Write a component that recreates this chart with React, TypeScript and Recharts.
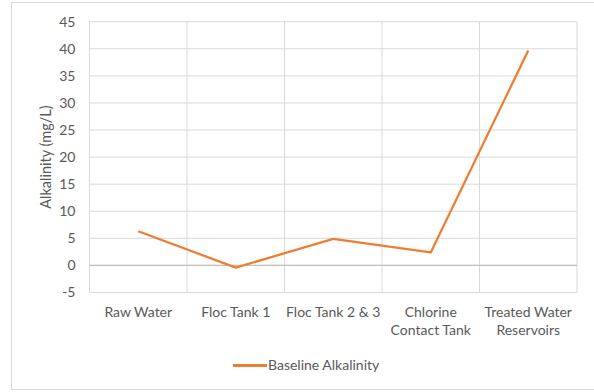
import { LineChart, Line, XAxis, YAxis, CartesianGrid, ReferenceLine } from 'recharts';

const STAGES = ['Raw Water', 'Floc Tank 1', 'Floc Tank 2 & 3', 'Chlorine\nContact Tank', 'Treated Water\nReservoirs'];
const ALKALINITY = [6.3, -0.4, 4.9, 2.4, 39.7];
const Y_TICKS = [-5, 0, 5, 10, 15, 20, 25, 30, 35, 40, 45];
const SERIES_NAME = 'Baseline Alkalinity';

const FONT = 'Lato, "Open Sans", sans-serif';
const TEXT = '#595959';
const ORANGE = '#ED7D31';

const data = STAGES.map((stage, i) => ({ idx: i, stage, value: ALKALINITY[i] }));

function StageTick({ x, y, payload }: any) {
  const lines = STAGES[payload.value].split('\n');
  return (
    <text x={x} y={y} textAnchor="middle" fill={TEXT} fontSize={14} fontFamily={FONT}>
      {lines.map((l, i) => (
        <tspan key={i} x={x} dy={i === 0 ? 16 : 18.5}>{l}</tspan>
      ))}
    </text>
  );
}

export default function App() {
  return (
    <div style={{ position: 'absolute', left: 0, top: 0, width: 594, height: 392, background: '#fff' }}>
      {/* chart frame */}
      <div style={{ position: 'absolute', left: 11, top: 2, width: 600, height: 386, border: '1px solid #d9d9d9' }} />
      <LineChart width={594} height={392} data={data} margin={{ top: 21.7, right: 17, left: 0, bottom: 0 }}>
        <CartesianGrid
          stroke="#d9d9d9"
          verticalCoordinatesGenerator={({ offset }: any) =>
            [0, 1, 2, 3, 4, 5].map((i) => offset.left + (i * offset.width) / 5)
          }
        />
        <XAxis
          dataKey="idx"
          type="number"
          domain={[-0.5, 4.5]}
          ticks={[0, 1, 2, 3, 4]}
          axisLine={false}
          tickLine={false}
          height={99.5}
          tick={<StageTick />}
          interval={0}
        />
        <YAxis
          domain={[-5, 45]}
          ticks={Y_TICKS}
          axisLine={false}
          tickLine={false}
          width={89.5}
          tickMargin={8}
          tick={{ fill: TEXT, fontSize: 14, fontFamily: FONT }}
          label={{
            value: 'Alkalinity (mg/L)',
            angle: -90,
            position: 'center',
            dx: 1,
            fill: TEXT,
            fontSize: 14.5,
            fontFamily: FONT,
          }}
        />
        <ReferenceLine y={0} stroke="#bfbfbf" strokeWidth={1.3} />
        <Line
          type="linear"
          dataKey="value"
          name={SERIES_NAME}
          stroke={ORANGE}
          strokeWidth={2.25}
          strokeLinejoin="round"
          dot={false}
          isAnimationActive={false}
        />
      </LineChart>
      {/* legend */}
      <div style={{ position: 'absolute', left: 233, top: 364, width: 34, height: 2.5, background: ORANGE }} />
      <div
        style={{
          position: 'absolute',
          left: 268,
          top: 356,
          fontFamily: FONT,
          fontSize: 14,
          color: TEXT,
          lineHeight: '18px',
          whiteSpace: 'nowrap',
        }}
      >
        {SERIES_NAME}
      </div>
    </div>
  );
}
